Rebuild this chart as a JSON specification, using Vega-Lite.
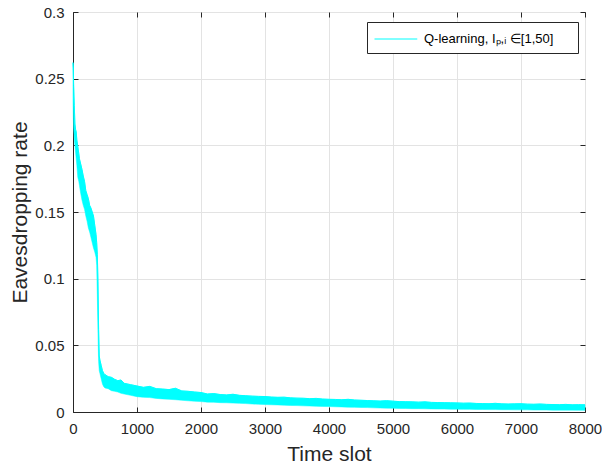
{
  "$schema": "https://vega.github.io/schema/vega-lite/v6.json",
  "width": 512,
  "height": 400,
  "autosize": "none",
  "padding": {"left": 73, "top": 12, "right": 17, "bottom": 58},
  "background": "white",
  "config": {
    "view": {"stroke": "#262626", "strokeWidth": 1},
    "font": "Liberation Sans",
    "axis": {
      "labelFont": "Liberation Sans",
      "labelFontSize": 15,
      "labelColor": "#262626",
      "labelFlush": false,
      "titleFont": "Liberation Sans",
      "titleFontSize": 21,
      "titleFontWeight": "normal",
      "titleColor": "#262626",
      "domainColor": "#262626",
      "tickColor": "#262626",
      "gridColor": "#e3e3e3",
      "tickSize": -5,
      "labelPadding": 14
    },
    "legend": {
      "labelFont": "Liberation Sans",
      "labelFontSize": 13,
      "labelColor": "#000000"
    }
  },
  "data": {"values": [
    {"t": 0, "lo": 0.235, "hi": 0.262},
    {"t": 5, "lo": 0.22, "hi": 0.258},
    {"t": 10, "lo": 0.213, "hi": 0.245},
    {"t": 20, "lo": 0.205, "hi": 0.23},
    {"t": 30, "lo": 0.2, "hi": 0.216},
    {"t": 40, "lo": 0.195, "hi": 0.212},
    {"t": 50, "lo": 0.19, "hi": 0.21},
    {"t": 60, "lo": 0.185, "hi": 0.204},
    {"t": 75, "lo": 0.176, "hi": 0.199},
    {"t": 90, "lo": 0.173, "hi": 0.194},
    {"t": 100, "lo": 0.17, "hi": 0.19},
    {"t": 120, "lo": 0.164, "hi": 0.186},
    {"t": 140, "lo": 0.159, "hi": 0.182},
    {"t": 160, "lo": 0.155, "hi": 0.177},
    {"t": 180, "lo": 0.152, "hi": 0.173},
    {"t": 200, "lo": 0.147, "hi": 0.166},
    {"t": 220, "lo": 0.143, "hi": 0.163},
    {"t": 240, "lo": 0.138, "hi": 0.16},
    {"t": 260, "lo": 0.135, "hi": 0.155},
    {"t": 280, "lo": 0.131, "hi": 0.153},
    {"t": 300, "lo": 0.127, "hi": 0.15},
    {"t": 320, "lo": 0.123, "hi": 0.147},
    {"t": 340, "lo": 0.12, "hi": 0.14},
    {"t": 360, "lo": 0.116, "hi": 0.133},
    {"t": 370, "lo": 0.11, "hi": 0.127},
    {"t": 380, "lo": 0.088, "hi": 0.118},
    {"t": 390, "lo": 0.06, "hi": 0.098},
    {"t": 400, "lo": 0.038, "hi": 0.062},
    {"t": 410, "lo": 0.031, "hi": 0.042},
    {"t": 420, "lo": 0.029, "hi": 0.039},
    {"t": 440, "lo": 0.025, "hi": 0.035},
    {"t": 460, "lo": 0.021, "hi": 0.031},
    {"t": 480, "lo": 0.019, "hi": 0.029},
    {"t": 500, "lo": 0.018, "hi": 0.028},
    {"t": 550, "lo": 0.0175, "hi": 0.0265},
    {"t": 600, "lo": 0.016, "hi": 0.026},
    {"t": 650, "lo": 0.0155, "hi": 0.0245},
    {"t": 700, "lo": 0.015, "hi": 0.0235},
    {"t": 750, "lo": 0.014, "hi": 0.024},
    {"t": 800, "lo": 0.0135, "hi": 0.0215},
    {"t": 900, "lo": 0.0125, "hi": 0.0205},
    {"t": 1000, "lo": 0.0115, "hi": 0.0195},
    {"t": 1100, "lo": 0.011, "hi": 0.0185},
    {"t": 1200, "lo": 0.0108, "hi": 0.0192},
    {"t": 1300, "lo": 0.0102, "hi": 0.0175},
    {"t": 1400, "lo": 0.0098, "hi": 0.0172},
    {"t": 1500, "lo": 0.0095, "hi": 0.0168},
    {"t": 1600, "lo": 0.0092, "hi": 0.0178},
    {"t": 1700, "lo": 0.0088, "hi": 0.0158},
    {"t": 1800, "lo": 0.0084, "hi": 0.0155},
    {"t": 1900, "lo": 0.0081, "hi": 0.015},
    {"t": 2000, "lo": 0.0078, "hi": 0.0146},
    {"t": 2100, "lo": 0.0074, "hi": 0.0135},
    {"t": 2200, "lo": 0.0073, "hi": 0.0138},
    {"t": 2300, "lo": 0.007, "hi": 0.0131},
    {"t": 2400, "lo": 0.0069, "hi": 0.0128},
    {"t": 2500, "lo": 0.0067, "hi": 0.0133},
    {"t": 2600, "lo": 0.0065, "hi": 0.0125},
    {"t": 2700, "lo": 0.0063, "hi": 0.0122},
    {"t": 2800, "lo": 0.006, "hi": 0.0119},
    {"t": 2900, "lo": 0.0058, "hi": 0.0117},
    {"t": 3000, "lo": 0.0056, "hi": 0.0116},
    {"t": 3100, "lo": 0.0054, "hi": 0.0112},
    {"t": 3200, "lo": 0.0053, "hi": 0.011},
    {"t": 3300, "lo": 0.0051, "hi": 0.0111},
    {"t": 3400, "lo": 0.0049, "hi": 0.0106},
    {"t": 3500, "lo": 0.0048, "hi": 0.0104},
    {"t": 3600, "lo": 0.0046, "hi": 0.0103},
    {"t": 3700, "lo": 0.0045, "hi": 0.01},
    {"t": 3800, "lo": 0.0043, "hi": 0.0102},
    {"t": 3900, "lo": 0.0042, "hi": 0.0097},
    {"t": 4000, "lo": 0.0041, "hi": 0.0095},
    {"t": 4100, "lo": 0.0039, "hi": 0.0094},
    {"t": 4200, "lo": 0.0038, "hi": 0.0092},
    {"t": 4300, "lo": 0.0036, "hi": 0.0095},
    {"t": 4400, "lo": 0.0035, "hi": 0.009},
    {"t": 4500, "lo": 0.0034, "hi": 0.0088},
    {"t": 4600, "lo": 0.0033, "hi": 0.0086},
    {"t": 4700, "lo": 0.0031, "hi": 0.0084},
    {"t": 4800, "lo": 0.003, "hi": 0.0082},
    {"t": 4900, "lo": 0.0029, "hi": 0.0085},
    {"t": 5000, "lo": 0.0028, "hi": 0.0081},
    {"t": 5100, "lo": 0.0027, "hi": 0.0078},
    {"t": 5200, "lo": 0.0026, "hi": 0.0077},
    {"t": 5300, "lo": 0.0025, "hi": 0.0076},
    {"t": 5400, "lo": 0.0025, "hi": 0.0074},
    {"t": 5500, "lo": 0.0024, "hi": 0.0076},
    {"t": 5600, "lo": 0.0023, "hi": 0.0072},
    {"t": 5700, "lo": 0.0022, "hi": 0.0071},
    {"t": 5800, "lo": 0.0022, "hi": 0.007},
    {"t": 5900, "lo": 0.0021, "hi": 0.0069},
    {"t": 6000, "lo": 0.0021, "hi": 0.0068},
    {"t": 6100, "lo": 0.002, "hi": 0.0066},
    {"t": 6200, "lo": 0.002, "hi": 0.0067},
    {"t": 6300, "lo": 0.0019, "hi": 0.0064},
    {"t": 6400, "lo": 0.0019, "hi": 0.0063},
    {"t": 6500, "lo": 0.0018, "hi": 0.0062},
    {"t": 6600, "lo": 0.0018, "hi": 0.0065},
    {"t": 6700, "lo": 0.0017, "hi": 0.0061},
    {"t": 6800, "lo": 0.0017, "hi": 0.006},
    {"t": 6900, "lo": 0.0016, "hi": 0.0061},
    {"t": 7000, "lo": 0.0016, "hi": 0.0062},
    {"t": 7100, "lo": 0.0016, "hi": 0.0059},
    {"t": 7200, "lo": 0.0015, "hi": 0.0058},
    {"t": 7300, "lo": 0.0015, "hi": 0.006},
    {"t": 7400, "lo": 0.0015, "hi": 0.0057},
    {"t": 7500, "lo": 0.0014, "hi": 0.0056},
    {"t": 7600, "lo": 0.0014, "hi": 0.0055},
    {"t": 7700, "lo": 0.0014, "hi": 0.0057},
    {"t": 7800, "lo": 0.0014, "hi": 0.0054},
    {"t": 7900, "lo": 0.0013, "hi": 0.0055},
    {"t": 8000, "lo": 0.0013, "hi": 0.0054}
  ]},
  "layer": [
    {
      "mark": {"type": "area", "color": "#00FFFF", "stroke": "#00FFFF", "strokeWidth": 0.5, "opacity": 1},
      "encoding": {
        "x": {"field": "t", "type": "quantitative",
              "scale": {"domain": [0, 8000], "nice": false},
              "axis": {"values": [0,1000,2000,3000,4000,5000,6000,7000,8000], "format": "d", "title": "Time slot", "grid": true, "titlePadding": 7}},
        "y": {"field": "lo", "type": "quantitative",
              "scale": {"domain": [0, 0.3], "nice": false},
              "axis": {"values": [0,0.05,0.1,0.15,0.2,0.25,0.3], "format": "~g", "title": "Eavesdropping rate", "grid": true, "titlePadding": 4}},
        "y2": {"field": "hi"}
      }
    },
    {
      "mark": {"type": "line", "strokeWidth": 1},
      "encoding": {
        "x": {"field": "t", "type": "quantitative",
              "axis": {"orient": "top", "values": [0,1000,2000,3000,4000,5000,6000,7000,8000], "labels": false, "title": null, "grid": false, "domain": false}},
        "y": {"field": "hi", "type": "quantitative",
              "axis": {"orient": "right", "values": [0,0.05,0.1,0.15,0.2,0.25,0.3], "labels": false, "title": null, "grid": false, "domain": false}},
        "color": {"datum": "Q-learning, Iₚ,ᵢ ∈[1,50]", "type": "nominal",
                  "scale": {"range": ["#00FFFF"]},
                  "legend": {"title": "\u00a0", "titleOrient": "right", "titlePadding": 18, "titleFontSize": 12,
                             "orient": "none", "legendX": 294, "legendY": 10,
                             "symbolType": "M-1,0H3.5", "symbolSize": 361, "symbolStrokeWidth": 1,
                             "strokeColor": "#262626", "fillColor": "white", "padding": 7, "labelOffset": 30}}
      }
    }
  ],
  "resolve": {"axis": {"x": "independent", "y": "independent"}}
}
